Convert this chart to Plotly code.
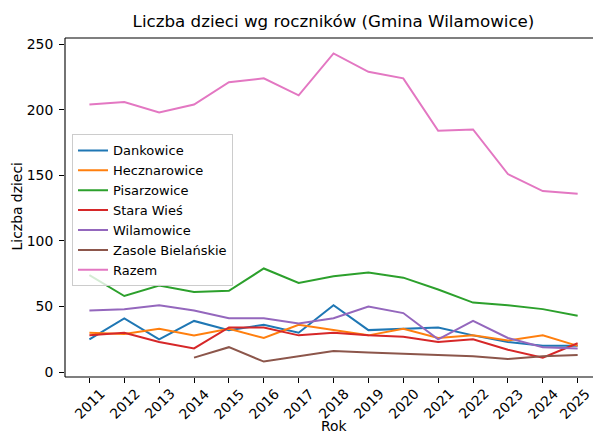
import plotly.graph_objects as go

years = list(range(2011, 2026))
year_labels = [str(y) for y in years]

dankowice = [25, 41, 25, 39, 32, 36, 30, 51, 32, 33, 34, 28, 23, 20, 20]
hecznarowice = [30, 29, 33, 28, 33, 26, 36, 32, 28, 33, 26, 28, 24, 28, 20]
pisarzowice = [74, 58, 66, 61, 62, 79, 68, 73, 76, 72, 63, 53, 51, 48, 43]
stara_wies = [28, 30, 23, 18, 34, 34, 28, 30, 28, 27, 23, 25, 17, 11, 22]
wilamowice = [47, 48, 51, 47, 41, 41, 37, 41, 50, 45, 25, 39, 26, 19, 18]
zasole = [None, None, None, 11, 19, 8, 12, 16, 15, 14, 13, 12, 10, 12, 13]
razem = [204, 206, 198, 204, 221, 224, 211, 243, 229, 224, 184, 185, 151, 138, 136]

series_names = ["Dankowice", "Hecznarowice", "Pisarzowice", "Stara Wieś",
                "Wilamowice", "Zasole Bielańskie", "Razem"]
series_values = [dankowice, hecznarowice, pisarzowice, stara_wies,
                 wilamowice, zasole, razem]
colors = ["#1f77b4", "#ff7f0e", "#2ca02c", "#d62728", "#9467bd", "#8c564b", "#e377c2"]

y_ticks = [0, 50, 100, 150, 200, 250]

W, H = 593, 434
L, R, T, B = 65, 0, 37.5, 57.3
plot_w = W - L - R
plot_h = H - T - B


def px_x(px):
    return (px - L) / plot_w


def px_y(py):
    return (H - B - py) / plot_h


font = "DejaVu Sans, sans-serif"
fs = 13.9

fig = go.Figure()
for name, vals, c in zip(series_names, series_values, colors):
    fig.add_trace(go.Scatter(x=years, y=vals, mode="lines", name=name,
                             line=dict(color=c, width=2), connectgaps=False))

annotations = []
for i, (y, lab) in enumerate(zip(years, year_labels)):
    annotations.append(dict(x=y, xref="x", y=px_y(403.5), yref="paper",
                            text=lab, showarrow=False, textangle=-45,
                            font=dict(family=font, size=fs, color="black"),
                            xanchor="center", yanchor="middle",
                            xshift=-3 if i == len(years) - 1 else 0))

annotations.append(dict(x=px_x(333.5), xref="paper", y=px_y(426), yref="paper",
                        text="Rok", showarrow=False, xanchor="center", yanchor="middle",
                        font=dict(family=font, size=fs, color="black")))

annotations.append(dict(x=px_x(17), xref="paper", y=px_y(206), yref="paper",
                        text="Liczba dzieci", showarrow=False, textangle=-90,
                        xanchor="center", yanchor="middle",
                        font=dict(family=font, size=fs, color="black")))

# axes frame (left, bottom, top); the right side lies beyond the cropped edge
spine = dict(color="black", width=1.1)
shapes = [
    dict(type="line", xref="paper", yref="paper", x0=0, x1=0, y0=0, y1=1, line=spine, layer="above"),
    dict(type="line", xref="paper", yref="paper", x0=0, x1=1.02, y0=0, y1=0, line=spine, layer="above"),
    dict(type="line", xref="paper", yref="paper", x0=0, x1=1.02, y0=1, y1=1, line=spine, layer="above"),
]

fig.update_layout(
    width=W, height=H,
    margin=dict(l=L, r=R, t=T, b=B, pad=0),
    paper_bgcolor="white", plot_bgcolor="white",
    font=dict(family=font, size=fs, color="black"),
    title=dict(text="Liczba dzieci wg roczników (Gmina Wilamowice)",
               x=333.5 / W, xref="container", xanchor="center",
               y=1 - 21 / H, yref="container", yanchor="middle",
               font=dict(family=font, size=16.7, color="black")),
    xaxis=dict(range=[2010.3, 2025.44], tickvals=years, showticklabels=False,
               ticks="outside", ticklen=5, tickwidth=1.1, tickcolor="black",
               showline=False, showgrid=False, zeroline=False),
    yaxis=dict(range=[-3.75, 254.75], tickvals=y_ticks,
               ticks="outside", ticklen=5, tickwidth=1.1, tickcolor="black",
               ticklabelstandoff=3,
               showline=False, showgrid=False, zeroline=False,
               tickfont=dict(family=font, size=fs, color="black")),
    legend=dict(x=px_x(72), y=px_y(134),
                xanchor="left", yanchor="top",
                bgcolor="rgba(255,255,255,0.8)", bordercolor="#cccccc", borderwidth=1,
                font=dict(family=font, size=13, color="black"),
                tracegroupgap=0),
    annotations=annotations,
    shapes=shapes,
    showlegend=True,
)

fig.write_html("out.html",
               config={"displayModeBar": False, "responsive": False},
               default_width="593px", default_height="434px",
               post_script="document.body.style.margin='0';document.body.style.padding='0';"
                           "document.documentElement.style.overflow='hidden';"
                           "document.body.style.overflow='hidden';")
